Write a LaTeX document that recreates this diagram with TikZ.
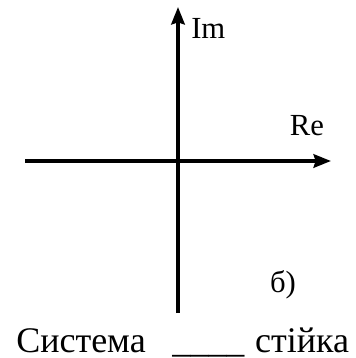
\documentclass[tikz,border=0pt]{standalone}
\usepackage{fontspec}
\setmainfont{Liberation Serif}
\usetikzlibrary{arrows.meta,positioning}

\begin{document}
\begin{tikzpicture}[x=0.75pt,y=-0.75pt,
  axis/.style={line width=2.8pt,-{Stealth[length=13pt,width=10pt,inset=1.5pt]}},
  lbl/.style={font=\fontsize{23}{27}\selectfont,inner sep=0pt}]
\useasboundingbox (0,0) rectangle (355,358);
% axes
\coordinate (imlo) at (178,313);
\coordinate (imhi) at (178,7);
\coordinate (relo) at (25,161);
\coordinate (rehi) at (331,161);
\path[axis]
(relo) edge (rehi)
(imlo) edge (imhi)
;
% labels
\node[lbl,anchor=west] (im) at (191,28) {Im};
\node[lbl] (re) at (307,126) {Re};
\node[lbl] (case) at (283,285) {б)};
\node[font=\fontsize{27}{32}\selectfont,inner sep=0pt,anchor=base west] (caption) at (16,352)
  {Система\hspace{20pt}\_\_\_\_\hspace{8pt}стійка};
\end{tikzpicture}
\end{document}
